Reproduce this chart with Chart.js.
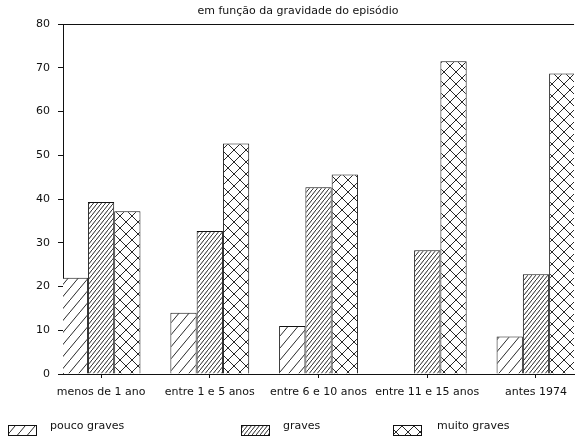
<!DOCTYPE html>
<html>
<head>
<meta charset="utf-8">
<script src="https://cdn.jsdelivr.net/npm/chart.js@4/dist/chart.umd.min.js"></script>
<style>
  html, body { margin: 0; padding: 0; background: #fff; overflow: hidden; }
  #wrap { width: 575px; height: 438px; }
</style>
</head>
<body>
<div id="wrap"><canvas id="chart"></canvas></div>
<script>
// dados
const categories = ['menos de 1 ano', 'entre 1 e 5 anos', 'entre 6 e 10 anos', 'entre 11 e 15 anos', 'antes 1974'];
const poucoGraves = [22, 14, 11, 0, 8.6];
const graves = [39.3, 32.7, 42.7, 28.3, 22.8];
const muitoGraves = [37.2, 52.7, 45.6, 71.5, 68.7];
const yTicks = [0, 10, 20, 30, 40, 50, 60, 70, 80];
const seriesNames = ['pouco graves', 'graves', 'muito graves'];

const titleText = 'em função da gravidade do episódio';
const FONT = '"DejaVu Sans", sans-serif';

// padrões de tracejado
function hatch(w, h, lw, cross) {
    const c = document.createElement('canvas');
    c.width = w; c.height = h;
    const g = c.getContext('2d');
    g.fillStyle = '#fff';
    g.fillRect(0, 0, w, h);
    g.strokeStyle = '#111';
    g.lineWidth = lw;
    g.beginPath();
    g.moveTo(-1, h + h / w);
    g.lineTo(w + 1, -h / w);
    if (cross) {
        g.moveTo(-1, -h / w);
        g.lineTo(w + 1, h + h / w);
    }
    g.stroke();
    return g.createPattern(c, 'repeat');
}

const ctx = document.getElementById('chart').getContext('2d');
const patterns = [hatch(10, 12, 0.9, false), hatch(4, 5, 0.9, false), hatch(12, 12, 0.9, true)];

function toPoints(arr) {
    return arr.map((v, i) => ({ x: i, y: v }));
}

// título e legenda desenhados à mão
const legendX = [8, 241, 393];
const legendTextX = [50, 283, 437];
const decorPlugin = {
    id: 'decor',
    afterDraw(chart) {
        const c = chart.ctx;
        c.save();
        c.fillStyle = '#111';
        c.font = '11px ' + FONT;
        c.textBaseline = 'middle';
        c.textAlign = 'center';
        c.fillText(titleText, 298, 11);

        c.textAlign = 'left';
        chart.data.datasets.forEach((ds, i) => {
            c.fillStyle = patterns[i];
            c.fillRect(legendX[i], 425.5, 28, 10);
            c.strokeStyle = '#111';
            c.lineWidth = 1;
            c.strokeRect(legendX[i] + 0.5, 425.5, 28, 10);
            c.fillStyle = '#111';
            c.fillText(ds.label, legendTextX[i], 426.5);
        });
        c.restore();
    }
};

new Chart(ctx, {
    type: 'bar',
    data: {
        datasets: [
            { label: seriesNames[0], data: toPoints(poucoGraves), backgroundColor: patterns[0] },
            { label: seriesNames[1], data: toPoints(graves), backgroundColor: patterns[1] },
            { label: seriesNames[2], data: toPoints(muitoGraves), backgroundColor: patterns[2] }
        ]
    },
    options: {
        responsive: true,
        maintainAspectRatio: false,
        animation: false,
        layout: { padding: { top: 24, left: 0, right: 0, bottom: 0 } },
        datasets: {
            bar: {
                borderColor: '#111',
                borderWidth: 1,
                categoryPercentage: 0.725,
                barPercentage: 1.0
            }
        },
        plugins: {
            legend: { display: false },
            title: { display: false },
            tooltip: { enabled: false }
        },
        scales: {
            x: {
                type: 'linear',
                min: -0.35,
                max: 4.35,
                offset: false,
                afterBuildTicks: scale => {
                    scale.ticks = categories.map((c, i) => ({ value: i }));
                },
                afterFit: scale => { scale.height = 64; },
                border: { display: true, color: '#111', width: 1 },
                grid: { offset: false, drawOnChartArea: false, tickLength: 4, color: '#111', tickColor: '#111' },
                ticks: {
                    color: '#111',
                    padding: 8,
                    maxRotation: 0,
                    autoSkip: false,
                    font: { family: FONT, size: 11 },
                    callback: v => categories[v]
                }
            },
            y: {
                min: 0,
                max: 80,
                afterBuildTicks: scale => {
                    scale.ticks = yTicks.map(v => ({ value: v }));
                },
                afterFit: scale => { scale.width = 63; },
                border: { display: true, color: '#111', width: 1 },
                grid: {
                    tickLength: 5,
                    tickColor: '#111',
                    color: c => (c.tick && c.tick.value === 80 ? '#111' : 'rgba(0,0,0,0)')
                },
                ticks: {
                    color: '#111',
                    padding: 8,
                    font: { family: FONT, size: 11 }
                }
            }
        }
    },
    plugins: [decorPlugin]
});
</script>
</body>
</html>
